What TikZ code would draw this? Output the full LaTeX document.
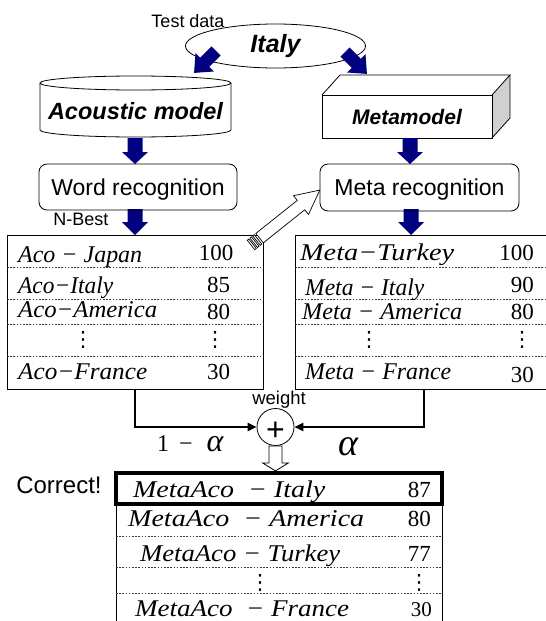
\documentclass[tikz,border=0pt]{standalone}
\usepackage{fontspec}
\setmainfont{Liberation Serif}
\setsansfont{Liberation Sans}
\newfontfamily\dejavu{DejaVu Sans}
\usepackage{graphicx}
\usetikzlibrary{arrows.meta,shapes.geometric}
\definecolor{navyarr}{RGB}{0,0,128}
\definecolor{sidegray}{RGB}{208,208,208}
\newcommand{\fs}[1]{\fontsize{#1}{#1}\selectfont}
\newcommand{\sq}[2]{\resizebox{#1pt}{\height}{#2}}
\newcommand{\blkarr}[6]{\fill[navyarr, shift={#1}, rotate=#2] (0,-#3) -- (#5,-#3) -- (#5,-#4) -- (#6,0) -- (#5,#4) -- (#5,#3) -- (0,#3) -- cycle;}
\tikzset{
  sanslbl/.style={font=\sffamily\fs{18}, inner sep=0pt},
  boldlbl/.style={font=\sffamily\bfseries\itshape\fs{#1}, inner sep=0pt},
  itemlbl/.style={anchor=base west, font=\itshape\fs{24}, inner sep=0pt},
  numlbl/.style={font=\fs{23}, inner sep=0pt},
  dotlbl/.style={font=\dejavu\fs{21}, inner sep=0pt},
  dashline/.style={dash pattern=on 1.6pt off 1.6pt, line width=0.6pt, black!80},
  boxline/.style={line width=0.8pt},
  conn/.style={line width=2.2pt, -{Triangle[length=9pt,width=8pt]}},
  hollow/.style={line width=0.8pt, fill=white}
}
\begin{document}
\begin{tikzpicture}[x=1pt,y=-1pt]
\useasboundingbox (0,0) rectangle (546,621);

% test data ellipse
\node[ellipse, draw, boxline, minimum width=180pt, minimum height=44pt, inner sep=0pt, boldlbl=25] (italy) at (275.5,46) {Italy};
\node[sanslbl] (test) at (188,21) {Test data};

% cylinder
\draw[boxline, fill=white] (40,83) -- (40,130) arc[start angle=180,end angle=360,x radius=95.5pt,y radius=7pt] -- (231,83);
\draw[boxline] (135.5,83) ellipse [x radius=95.5pt, y radius=7pt];
\node[boldlbl=23.5] (acoustic) at (135.5,111) {Acoustic model};

% metamodel cuboid
\fill[sidegray] (492,95) -- (510,75) -- (510,118) -- (492,138) -- cycle;
\draw[boxline] (322,95) -- (340,75) -- (510,75) -- (492,95);
\draw[boxline] (510,75) -- (510,118) -- (492,138);
\node[draw, boxline, minimum width=170pt, minimum height=43pt, inner sep=0pt, text depth=0pt, boldlbl=21] (meta) at (407,116.5) {Metamodel};

% blue arrows
\blkarr{(216,51)}{-135}{6.5}{13}{16}{31}
\blkarr{(345,52)}{-45}{6.5}{13}{16}{31}
\blkarr{(135,138)}{-90}{7.5}{13}{14}{26}
\blkarr{(410,138)}{-90}{7.5}{13}{14}{26}
\blkarr{(135,209)}{-90}{7.5}{13}{13}{26}
\blkarr{(411,209)}{-90}{7.5}{13}{13}{26}

% recognition boxes
\node[draw, boxline, rounded corners=8pt, minimum width=198pt, minimum height=46pt, text depth=0pt, font=\sffamily\fs{23}] (wordrec) at (138,187) {Word recognition};
\node[draw, boxline, rounded corners=8pt, minimum width=199pt, minimum height=47pt, text depth=0pt, font=\sffamily\fs{23}] (metarec) at (419.5,187.5) {Meta recognition};
\node[sanslbl] (nbest) at (81,219) {N-Best};

% left list
\node[draw, boxline, minimum width=256pt, minimum height=154pt, inner sep=0pt] (alist) at (135,312) {};
\foreach \y in {267,299,324,356} \draw[dashline] (7,\y) -- (263,\y);
\node[itemlbl] (a1) at (18,262) {\sq{124}{Aco − Japan}};
\node[itemlbl] (a2) at (18,293) {\sq{95}{Aco−Italy}};
\node[itemlbl] (a3) at (18,317) {\sq{139}{Aco−America}};
\node[itemlbl] (a5) at (18,379) {\sq{129}{Aco−France}};
\node[numlbl, anchor=base] (n1) at (216,260) {100};
\node[numlbl, anchor=base] (n2) at (218.5,292) {85};
\node[numlbl, anchor=base] (n3) at (218.5,319) {80};
\node[numlbl, anchor=base] (n5) at (218.5,379) {30};
\node[dotlbl] (ad1) at (83,340) {⋮};
\node[dotlbl] (ad2) at (215,340) {⋮};

% right list
\node[draw, boxline, minimum width=258pt, minimum height=154pt, inner sep=0pt] (blist) at (424,312) {};
\foreach \y in {267,299,324,356} \draw[dashline] (295,\y) -- (546,\y);
\node[itemlbl] (b1) at (300,260) {\sq{154}{Meta−Turkey}};
\node[itemlbl] (b2) at (305,295) {\sq{119}{Meta − Italy}};
\node[itemlbl] (b3) at (302,319) {\sq{160}{Meta − America}};
\node[itemlbl] (b5) at (305,379) {\sq{146}{Meta − France}};
\node[numlbl, anchor=base east] (m1) at (534,260) {100};
\node[numlbl, anchor=base east] (m2) at (534,292) {90};
\node[numlbl, anchor=base east] (m3) at (534,319) {80};
\node[numlbl, anchor=base east] (m5) at (534,382) {30};
\node[dotlbl] (bd1) at (369,340) {⋮};
\node[dotlbl] (bd2) at (522,340) {⋮};

% striped hollow arrow
\begin{scope}[shift={(251,245)}, rotate=38.6, line width=0.7pt]
  \draw[fill=white] (0,-6) rectangle (2,6);
  \draw[fill=white] (3.5,-6) rectangle (5.5,6);
  \draw[fill=white] (7,-6) rectangle (9,6);
  \draw[fill=white] (11,-6) -- (64,-6) -- (64,-12) -- (88,0) -- (64,12) -- (64,6) -- (11,6) -- cycle;
\end{scope}

% combination
\node[circle, draw, boxline, minimum size=37pt, inner sep=0pt] (plus) at (275.5,427) {};
\node[font=\sffamily\fs{32}, inner sep=0pt] (plussign) at (275.5,431) {+};
\node[sanslbl, font=\sffamily\fs{18.5}] (weight) at (279,400) {weight};
\draw[conn] (alist.south) |- (plus.west);
\draw[conn] (blist.south) |- (plus.east);
\node[anchor=base west, font=\fs{24}, inner sep=0pt] (oneminus) at (157,451) {1\hspace{10pt}−\hspace{14pt}{\itshape\fs{32}α}};
\node[anchor=base, font=\itshape\fs{38}, inner sep=0pt] (alpha) at (348,455) {α};
\draw[hollow, shift={(plus.south)}, rotate=-90] (0,-6.5) -- (17,-6.5) -- (17,-13) -- (25,0) -- (17,13) -- (17,6.5) -- (0,6.5) -- cycle;

% result list
\node[draw, boxline, minimum width=326pt, minimum height=136pt, inner sep=0pt] (rest) at (279,572) {};
\foreach \y in {536,567,593} \draw[dashline] (116,\y) -- (442,\y);
\node[draw, line width=4pt, minimum width=326.5pt, minimum height=31pt, inner sep=0pt] (best) at (278.75,488.5) {};
\node[itemlbl] (c1) at (133,497) {\sq{192}{MetaAco\ \ − Italy}};
\node[itemlbl] (c2) at (128,526) {\sq{236}{MetaAco\ \ − America}};
\node[itemlbl] (c3) at (140,561) {\sq{200}{MetaAco − Turkey}};
\node[itemlbl] (c5) at (135,616) {\sq{214}{MetaAco\ \ − France}};
\node[numlbl, anchor=base east] (k1) at (431,497) {87};
\node[numlbl, anchor=base east] (k2) at (431,526) {80};
\node[numlbl, anchor=base east] (k3) at (431,561) {77};
\node[numlbl, anchor=base east, font=\fs{21}] (k5) at (432,616) {30};
\node[dotlbl] (cd1) at (260,583) {⋮};
\node[dotlbl] (cd2) at (419,583) {⋮};
\node[font=\sffamily\fs{24}, inner sep=0pt] (correct) at (59,485) {Correct!};
\end{tikzpicture}
\end{document}
